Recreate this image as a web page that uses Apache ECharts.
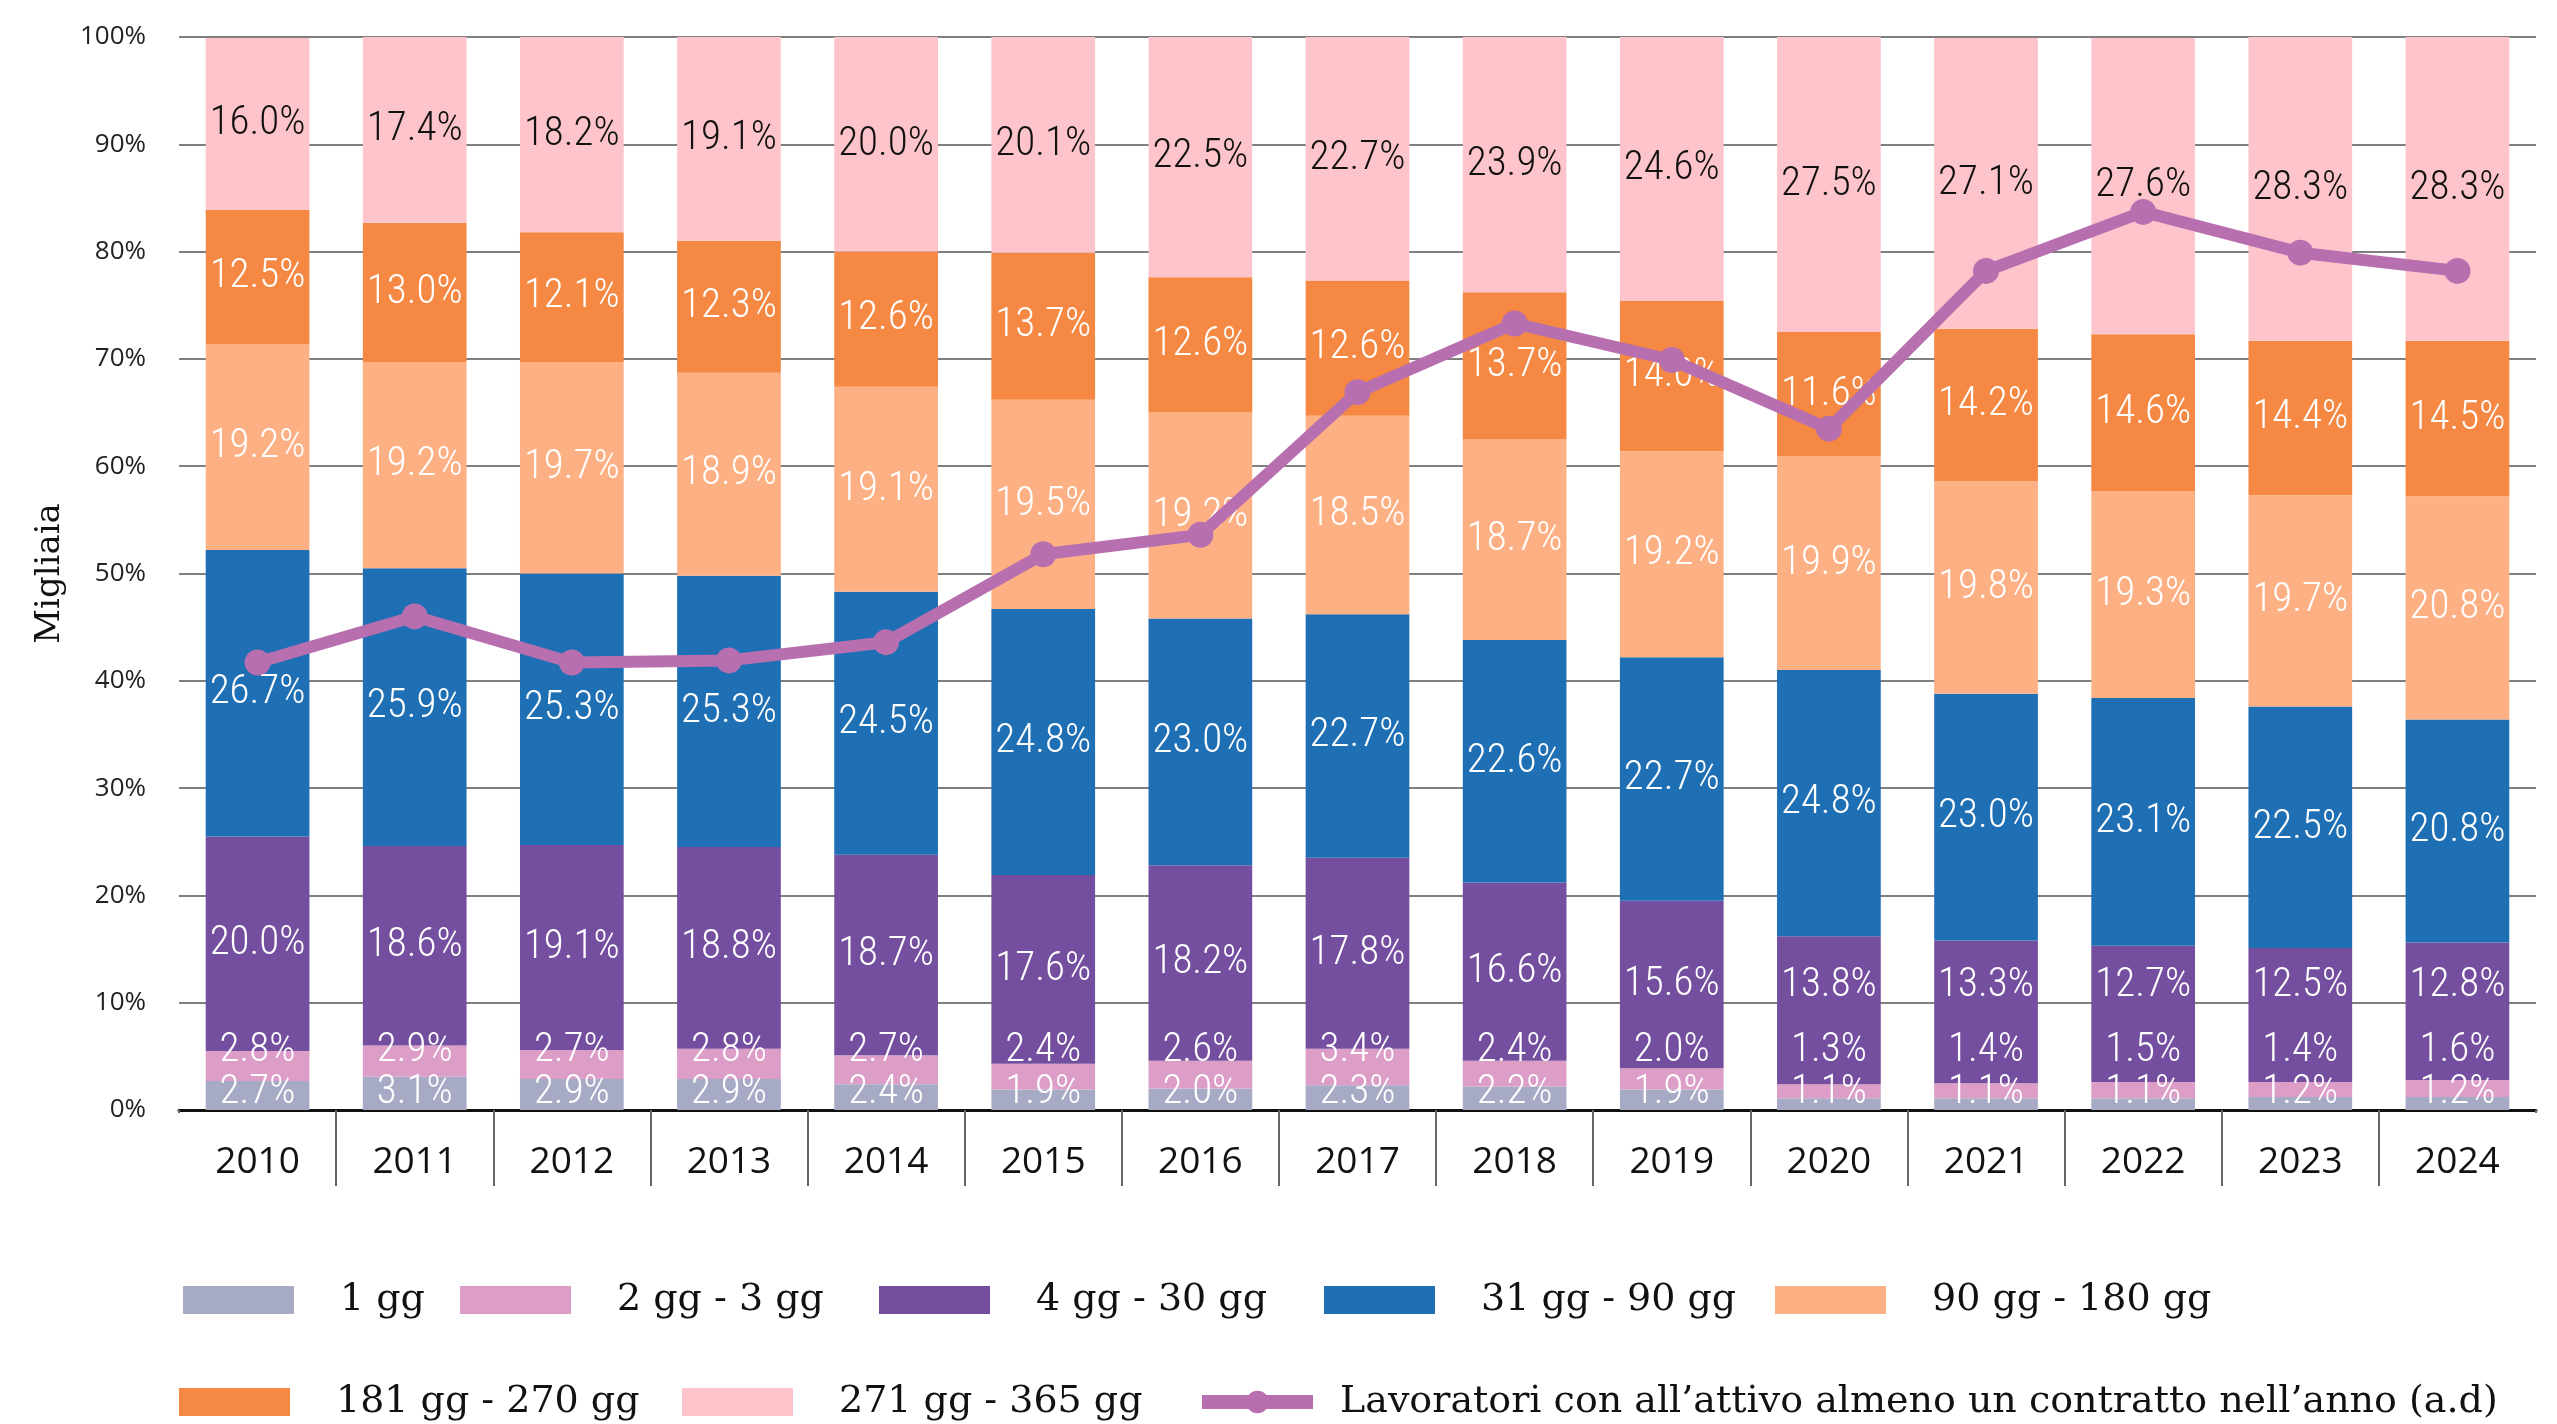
<!DOCTYPE html>
<html>
<head>
<meta charset="utf-8">
<script src="https://cdn.jsdelivr.net/npm/echarts@6/dist/echarts.min.js"></script>
<style>
html,body{margin:0;padding:0;background:#fff;}
#chart{width:2557px;height:1424px;}
</style>
</head>
<body>
<div id="chart"></div>
<script>
const years = ['2010','2011','2012','2013','2014','2015','2016','2017','2018','2019','2020','2021','2022','2023','2024'];
const yTicks = [0,10,20,30,40,50,60,70,80,90,100];

const s1gg     = [2.7,3.1,2.9,2.9,2.4,1.9,2.0,2.3,2.2,1.9,1.1,1.1,1.1,1.2,1.2];
const s2_3gg   = [2.8,2.9,2.7,2.8,2.7,2.4,2.6,3.4,2.4,2.0,1.3,1.4,1.5,1.4,1.6];
const s4_30gg  = [20.0,18.6,19.1,18.8,18.7,17.6,18.2,17.8,16.6,15.6,13.8,13.3,12.7,12.5,12.8];
const s31_90gg = [26.7,25.9,25.3,25.3,24.5,24.8,23.0,22.7,22.6,22.7,24.8,23.0,23.1,22.5,20.8];
const s90_180gg= [19.2,19.2,19.7,18.9,19.1,19.5,19.2,18.5,18.7,19.2,19.9,19.8,19.3,19.7,20.8];
const s181_270gg=[12.5,13.0,12.1,12.3,12.6,13.7,12.6,12.6,13.7,14.0,11.6,14.2,14.6,14.4,14.5];
const s271_365gg=[16.0,17.4,18.2,19.1,20.0,20.1,22.5,22.7,23.9,24.6,27.5,27.1,27.6,28.3,28.3];
// line on hidden right axis (a.d), read in plot position
const lavoratori = [41.7,46.0,41.7,41.9,43.6,51.8,53.6,66.9,73.3,69.9,63.5,78.2,83.7,79.9,78.2];

const names = ['1 gg','2 gg - 3 gg','4 gg - 30 gg','31 gg - 90 gg','90 gg - 180 gg','181 gg - 270 gg','271 gg - 365 gg'];
const lineName = 'Lavoratori con all\u2019attivo almeno un contratto nell\u2019anno (a.d)';
const colors = ['#A6AAC5','#DC9EC7','#744E9F','#1F6FB5','#FDB084','#F58842','#FEC4CB'];
const labelColors = ['#fff','#fff','#fff','#fff','#fff','#fff','#111'];
const seriesData = [s1gg,s2_3gg,s4_30gg,s31_90gg,s90_180gg,s181_270gg,s271_365gg];

const labelFont = '"Roboto Condensed","Roboto",sans-serif';
const serifFont = '"DejaVu Serif","Liberation Serif",serif';

// label placement (style): pixels per percent unit of the plot
const PLOT_LEFT = 179, PLOT_RIGHT = 2536, PLOT_TOP = 37, PLOT_BOTTOM = 1110;
const PX = (PLOT_BOTTOM - PLOT_TOP) / 100;
// small-segment labels are nudged as in the reference layout
function labelOffset(si, i) {
  if (si === 0) { // 1 gg: label sits on the base
    return [0, -(1.6 - s1gg[i] / 2) * PX];
  }
  if (si === 1) { // 2-3 gg: label stacked above the 1 gg label
    return [0, -(5.5 - (s1gg[i] + s2_3gg[i] / 2)) * PX];
  }
  if (si === 2 && i >= 10) { // 4-30 gg: lifted clear of the small labels
    return [0, -(11.6 - (s1gg[i] + s2_3gg[i] + s4_30gg[i] / 2)) * PX];
  }
  return [0, 0];
}

const series = seriesData.map((d,si)=>({
  name: names[si],
  type: 'bar',
  stack: 'tot',
  data: d.map((v,i)=>({value: v, label: {offset: labelOffset(si,i)}})),
  barCategoryGap: '34%',
  itemStyle: {color: colors[si]},
  label: {
    show: true,
    position: 'inside',
    formatter: p => p.value.toFixed(1) + '%',
    color: labelColors[si],
    fontFamily: labelFont,
    fontWeight: 300,
    fontSize: 41
  },
  z: 2
}));
series.push({
  name: lineName,
  type: 'line',
  yAxisIndex: 1,
  data: lavoratori,
  symbol: 'circle',
  symbolSize: 26,
  lineStyle: {color: '#B86FAF', width: 12},
  itemStyle: {color: '#B86FAF'},
  z: 5
});

const legendPos = [
  {n: names[0], left: 183, top: 1281, gap: 41},
  {n: names[1], left: 460, top: 1281, gap: 41},
  {n: names[2], left: 879, top: 1281, gap: 41},
  {n: names[3], left: 1324, top: 1281, gap: 41},
  {n: names[4], left: 1775, top: 1281, gap: 41},
  {n: names[5], left: 179, top: 1383, gap: 41},
  {n: names[6], left: 682, top: 1383, gap: 41},
  {n: lineName, left: 1195, top: 1383, gap: 22}
];
const legends = legendPos.map(l=>({
  data: [l.n],
  left: l.left,
  top: l.top,
  padding: 0,
  icon: l.n === lineName ? undefined : 'rect',
  itemWidth: 111,
  itemHeight: 28,
  lineStyle: {width: 14},
  formatter: name => '{a|' + name + '}',
  textStyle: {
    fontFamily: serifFont,
    fontSize: 38,
    color: '#111',
    rich: {a: {fontFamily: serifFont, fontSize: 38, color: '#111', padding: [0,0,0,l.gap]}}
  }
}));

const chart = echarts.init(document.getElementById('chart'));
chart.setOption({
  animation: false,
  backgroundColor: '#fff',
  legend: legends,
  grid: {left: PLOT_LEFT, right: 2557 - PLOT_RIGHT, top: PLOT_TOP, bottom: 1424 - PLOT_BOTTOM},
  xAxis: {
    type: 'category',
    data: years,
    axisLine: {lineStyle: {color: '#111', width: 3}},
    axisTick: {show: true, length: 76, lineStyle: {color: '#666', width: 2}},
    axisLabel: {fontFamily: '"Open Sans",sans-serif', fontSize: 37, color: '#111', margin: 34}
  },
  yAxis: [{
    type: 'value',
    min: 0, max: 100, interval: 10,
    name: 'Migliaia',
    nameLocation: 'middle',
    nameGap: 112,
    nameTextStyle: {fontFamily: serifFont, fontSize: 34, color: '#111'},
    axisLabel: {formatter: v => yTicks.includes(v) ? v + '%' : '', fontFamily: '"Open Sans",sans-serif', fontSize: 26, color: '#222', margin: 33},
    axisLine: {show: false},
    axisTick: {show: false},
    splitLine: {lineStyle: {color: '#555', width: 1.5}}
  },{
    type: 'value',
    min: 0, max: 100,
    show: false,
    splitLine: {show: false}
  }],
  // hide the two outer boundary ticks (the reference has ticks only between years)
  graphic: [
    {type: 'rect', left: PLOT_LEFT - 6, top: PLOT_BOTTOM + 3, shape: {width: 12, height: 80}, style: {fill: '#fff'}, z: 100},
    {type: 'rect', left: PLOT_RIGHT - 6, top: PLOT_BOTTOM + 3, shape: {width: 12, height: 80}, style: {fill: '#fff'}, z: 100}
  ],
  series: series
});
</script>
</body>
</html>
